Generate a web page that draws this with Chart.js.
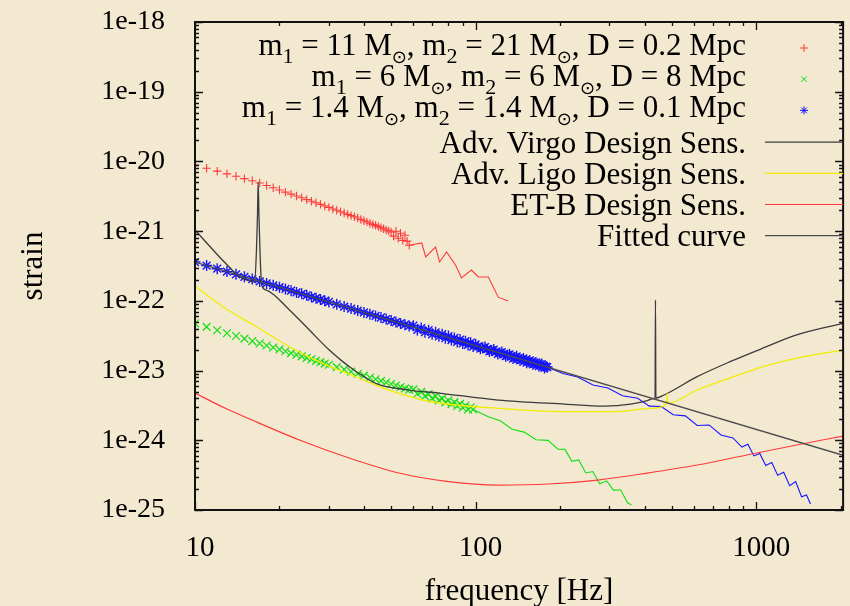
<!DOCTYPE html>
<html>
<head>
<meta charset="utf-8">
<script src="https://cdn.jsdelivr.net/npm/chart.js@4.4.0/dist/chart.umd.min.js"></script>
<style>
html,body{margin:0;padding:0;background:#f3e8d0;}
canvas{display:block;}
</style>
</head>
<body>
<canvas id="c" width="850" height="606"></canvas>
<script>
// ---------------- data ----------------
const freqTicks = [10, 100, 1000];
const strainTicks = [1e-25, 1e-24, 1e-23, 1e-22, 1e-21, 1e-20, 1e-19, 1e-18];

const seriesLabels = [
  'm₁ = 11 M⊙, m₂ = 21 M⊙, D = 0.2 Mpc',
  'm₁ = 6 M⊙, m₂ = 6 M⊙, D = 8 Mpc',
  'm₁ = 1.4 M⊙, m₂ = 1.4 M⊙, D = 0.1 Mpc',
  'Adv. Virgo Design Sens.',
  'Adv. Ligo Design Sens.',
  'ET-B Design Sens.',
  'Fitted curve'
];

// m1 = 11, m2 = 21, D = 0.2 Mpc  (points, then line)
const redFreq = [10,11,12,13,14,15,16,17,18,19,20,21,22,23,24,25,26,27,28,29,30,31,32,33,34,35,36,37,38,39,40,41,42,43,44,45,46,47,48,49,50,51,52,53,54,55,56,57,58];
const redStrain = [8.89e-21,8.00e-21,7.26e-21,6.64e-21,6.12e-21,5.67e-21,5.27e-21,4.90e-21,4.52e-21,4.19e-21,3.89e-21,3.63e-21,3.40e-21,3.19e-21,3.01e-21,2.83e-21,2.69e-21,2.55e-21,2.42e-21,2.30e-21,2.19e-21,2.08e-21,1.99e-21,1.90e-21,1.82e-21,1.74e-21,1.67e-21,1.61e-21,1.54e-21,1.47e-21,1.41e-21,1.36e-21,1.30e-21,1.25e-21,1.21e-21,1.16e-21,1.12e-21,1.08e-21,1.04e-21,1.01e-21,9.73e-22,8.49e-22,9.98e-22,7.92e-22,9.31e-22,7.38e-22,8.75e-22,7.18e-22,6.28e-22];
const redTailFreq = [58,64.3,66.4,72.0,74.4,78.8,84.8,89.1,96.6,102.3,111.0,120.4,130.7];
const redTailStrain = [6.28e-22,6.76e-22,4.26e-22,5.92e-22,3.61e-22,5.02e-22,3.27e-22,2.13e-22,2.77e-22,2.20e-22,2.20e-22,1.13e-22,9.95e-23];

// m1 = 6, m2 = 6, D = 8 Mpc
const greenFreq = [10,11,12,13,14,15,16,17,18,19,20,21,22,23,24,25,26,27,28,29,30,32,34,36,38,40,42,44,46,48,50,52,54,56,58,60,62,64,66,68,70,72,74,76,78,80,82,84,86,88,90,92,94,96,98];
const greenStrain = [4.76e-23,4.23e-23,3.79e-23,3.43e-23,3.13e-23,2.87e-23,2.65e-23,2.46e-23,2.29e-23,2.14e-23,2.01e-23,1.89e-23,1.78e-23,1.69e-23,1.60e-23,1.52e-23,1.45e-23,1.38e-23,1.32e-23,1.26e-23,1.21e-23,1.12e-23,1.04e-23,9.65e-24,9.02e-24,8.46e-24,7.96e-24,7.51e-24,7.11e-24,6.74e-24,6.41e-24,6.10e-24,5.82e-24,5.56e-24,5.32e-24,5.37e-24,4.66e-24,4.95e-24,4.30e-24,4.59e-24,4.00e-24,4.27e-24,3.73e-24,3.99e-24,3.50e-24,3.75e-24,3.29e-24,3.53e-24,3.10e-24,3.33e-24,2.93e-24,3.15e-24,2.77e-24,2.98e-24,2.77e-24];
const greenTailFreq = [98,111.0,122.4,135.0,148.9,164.3,181.1,196.6,208.1,220.3,233.2,247.0,261.6,276.9,293.2,310.4,328.6,347.9,359.4];
const greenTailStrain = [2.77e-24,2.18e-24,1.90e-24,1.44e-24,1.31e-24,1.02e-24,9.98e-25,7.45e-25,7.41e-25,4.98e-25,5.22e-25,3.40e-25,3.56e-25,2.38e-25,2.62e-25,1.91e-25,1.95e-25,1.27e-25,1.18e-25];

// m1 = 1.4, m2 = 1.4, D = 0.1 Mpc
const blueFreq = [10,11,12,13,14,15,16,17,18,19,20,21,22,23,24,25,26,27,28,29,30,32,34,36,38,40,42,44,46,48,50,52,54,56,58,60,62,64,66,68,70,72,74,76,78,80,82,84,86,88,90,92,94,96,98,100,102,104,106,108,110,112,114,116,118,120,122,124,126,128,130,132,134,136,138,140,142,144,146,148,150,152,154,156,158,160,162,164,166,168,170,172,174,176,178,180];
const blueStrain = [3.60e-22,3.21e-22,2.89e-22,2.63e-22,2.40e-22,2.21e-22,2.05e-22,1.90e-22,1.78e-22,1.67e-22,1.57e-22,1.48e-22,1.40e-22,1.32e-22,1.26e-22,1.20e-22,1.14e-22,1.09e-22,1.05e-22,1.00e-22,9.63e-23,8.91e-23,8.29e-23,7.74e-23,7.25e-23,6.82e-23,6.43e-23,6.08e-23,5.77e-23,5.48e-23,5.22e-23,4.97e-23,4.75e-23,4.55e-23,4.37e-23,4.40e-23,3.83e-23,4.07e-23,3.55e-23,3.79e-23,3.31e-23,3.54e-23,3.10e-23,3.32e-23,2.91e-23,3.12e-23,2.74e-23,2.94e-23,2.58e-23,2.78e-23,2.45e-23,2.64e-23,2.33e-23,2.51e-23,2.21e-23,2.38e-23,2.22e-23,2.06e-23,2.12e-23,2.17e-23,2.03e-23,1.88e-23,1.94e-23,2.00e-23,1.86e-23,1.73e-23,1.79e-23,1.84e-23,1.72e-23,1.61e-23,1.66e-23,1.71e-23,1.60e-23,1.49e-23,1.54e-23,1.60e-23,1.49e-23,1.40e-23,1.44e-23,1.49e-23,1.40e-23,1.30e-23,1.35e-23,1.40e-23,1.31e-23,1.23e-23,1.27e-23,1.31e-23,1.24e-23,1.16e-23,1.20e-23,1.24e-23,1.17e-23,1.09e-23,1.14e-23,1.12e-23];
const blueTailFreq = [180,205,231,262,296,334,378,416,459,506,559,616,679,749,826,889,934,981,1030,1081,1136,1193,1253,1316,1382,1451,1511,1561];
const blueTailStrain = [1.12e-23,9.08e-24,8.07e-24,6.21e-24,5.62e-24,4.35e-24,4.01e-24,3.09e-24,3.06e-24,2.33e-24,2.24e-24,1.63e-24,1.66e-24,1.19e-24,1.08e-24,8.0e-25,8.75e-25,5.97e-25,6.46e-25,4.34e-25,4.80e-25,3.14e-25,3.47e-25,2.23e-25,2.55e-25,1.55e-25,1.64e-25,1.22e-25];

// detector sensitivities
const virgoFreq = [10,12.77,14.44,15.66,16.32,16.56,16.70,16.79,16.90,17.04,17.28,17.95,21.71,25.56,30.09,35.43,44.05,57.8,73.8,120.4,208.1,288.4,356.6,409.6,430.2,436,437.5,439,469.5,616.0,806.3,1061,1394,2039];
const virgoStrain = [1.04e-21,3.55e-22,2.20e-22,1.93e-22,1.86e-22,5.36e-22,1.70e-21,5.07e-21,1.70e-21,5.36e-22,1.69e-22,1.43e-22,7.40e-23,3.82e-23,1.97e-23,1.14e-23,6.56e-24,5.26e-24,4.76e-24,3.78e-24,3.31e-24,3.10e-24,3.31e-24,3.72e-24,3.97e-24,4.04e-24,1.03e-22,4.04e-24,4.46e-24,8.17e-24,1.34e-23,2.11e-23,3.24e-23,4.76e-23];
const ligoFreq = [10,12.57,16.55,21.71,28.41,37.41,49.09,69.7,120.4,207.6,312.1,420.7,480.2,481.4,483.0,616.0,806.3,1061,1394,2039];
const ligoStrain = [1.63e-22,8.24e-23,4.26e-23,2.20e-23,1.28e-23,8.16e-24,5.26e-24,3.57e-24,2.87e-24,2.57e-24,2.57e-24,2.87e-24,3.37e-24,4.76e-24,3.39e-24,5.26e-24,7.82e-24,1.14e-23,1.51e-23,1.97e-23];
const etFreq = [10,12.77,15.66,23.56,35.43,53.27,80.1,120.4,181.1,272.3,409.6,616.0,926.2,1393,2039];
const etStrain = [4.76e-24,2.90e-24,2.02e-24,1.01e-24,5.57e-25,3.39e-25,2.55e-25,2.28e-25,2.36e-25,2.69e-25,3.39e-25,4.42e-25,6.15e-25,8.55e-25,1.15e-24];
const fitFreq = [10, 2040];
const fitStrain = [3.6e-22, 6.09e-25];

// ---------------- styles ----------------
const BG = '#f3e8d0';
const RED = '#ff3a3a';
const GREEN = '#14e014';
const BLUE = '#1414ff';
const YELLOW = '#f0ee00';
const VIRGO = '#3c3c3c';
const FIT = '#4c4c4c';
const SERIF = '"Liberation Serif", "Times New Roman", serif';

function pts(fs, ss) { return fs.map((f, i) => ({ x: f, y: ss[i] })); }

const datasets = [
  { label: seriesLabels[0], data: pts(redFreq, redStrain), showLine: false, pointStyle: 'cross', pointRadius: 4.2, pointBorderWidth: 1.1, pointBorderColor: RED, borderColor: RED, order: 6 },
  { label: '', data: pts(redTailFreq, redTailStrain), showLine: true, pointRadius: 0, borderColor: RED, borderWidth: 1.1, order: 6 },
  { label: seriesLabels[1], data: pts(greenFreq, greenStrain), showLine: false, pointStyle: 'crossRot', pointRadius: 5.5, pointBorderWidth: 1.2, pointBorderColor: GREEN, borderColor: GREEN, order: 5 },
  { label: '', data: pts(greenTailFreq, greenTailStrain), showLine: true, pointRadius: 0, borderColor: GREEN, borderWidth: 1.1, order: 5 },
  { label: seriesLabels[2], data: pts(blueFreq, blueStrain), showLine: false, pointStyle: 'star', pointRadius: 5.5, pointBorderWidth: 1.4, pointBorderColor: BLUE, borderColor: BLUE, order: 4 },
  { label: '', data: pts(blueTailFreq, blueTailStrain), showLine: true, pointRadius: 0, borderColor: BLUE, borderWidth: 1.1, order: 4 },
  { label: seriesLabels[3], data: pts(virgoFreq, virgoStrain), showLine: true, pointRadius: 0, borderColor: VIRGO, borderWidth: 1.3, cubicInterpolationMode: 'monotone', order: 3 },
  { label: seriesLabels[4], data: pts(ligoFreq, ligoStrain), showLine: true, pointRadius: 0, borderColor: YELLOW, borderWidth: 1.3, cubicInterpolationMode: 'monotone', order: 2 },
  { label: seriesLabels[5], data: pts(etFreq, etStrain), showLine: true, pointRadius: 0, borderColor: RED, borderWidth: 1.2, cubicInterpolationMode: 'monotone', order: 1 },
  { label: seriesLabels[6], data: pts(fitFreq, fitStrain), showLine: true, pointRadius: 0, borderColor: FIT, borderWidth: 1.3, order: 0 }
];
const keyEntries = [0, 2, 4, 6, 7, 8, 9];

// ---------------- drawing helpers ----------------
function drawKeyText(ctx, label, rightX, baseY) {
  const segs = [];
  for (const ch of label) {
    let kind = 'n', t = ch;
    if (ch === '₁') { kind = 's'; t = '1'; }
    else if (ch === '₂') { kind = 's'; t = '2'; }
    else if (ch === '⊙') { kind = 'o'; }
    const last = segs[segs.length - 1];
    if (last && last.kind === kind) last.t += t; else segs.push({ kind, t });
  }
  const fonts = { n: '31px ' + SERIF, s: '22px ' + SERIF, o: '18px "DejaVu Sans"' };
  const drop = { n: 0, s: 8, o: 8 };
  let total = 0;
  segs.forEach(s => { ctx.font = fonts[s.kind]; s.w = ctx.measureText(s.t).width; total += s.w; });
  let x = rightX - total;
  ctx.fillStyle = '#000';
  ctx.textAlign = 'left';
  ctx.textBaseline = 'alphabetic';
  segs.forEach(s => { ctx.font = fonts[s.kind]; ctx.fillText(s.t, x, baseY + drop[s.kind]); x += s.w; });
}

function drawMarker(ctx, style, r, x, y) {
  if (Chart.helpers && Chart.helpers.drawPoint) {
    Chart.helpers.drawPoint(ctx, { pointStyle: style, radius: r, rotation: 0, borderWidth: 1 }, x, y);
  }
}

const decor = {
  id: 'decor',
  beforeDraw(chart) {
    const ctx = chart.ctx;
    ctx.save();
    ctx.fillStyle = BG;
    ctx.fillRect(0, 0, chart.width, chart.height);
    ctx.restore();
  },
  afterDraw(chart) {
    const ctx = chart.ctx;
    const { left, right, top, bottom } = chart.chartArea;
    const xs = chart.scales.x, ys = chart.scales.y;
    ctx.save();
    // inward ticks on all four sides
    ctx.strokeStyle = '#111';
    ctx.lineWidth = 1.3;
    ctx.beginPath();
    for (let d = 10; d <= 1000; d *= 10) {
      for (let k = 1; k <= 9; k++) {
        const v = k * d;
        if (v < xs.min || v > xs.max) continue;
        const px = Math.round(xs.getPixelForValue(v)) + 0.5;
        const len = k === 1 ? 8 : 4;
        ctx.moveTo(px, bottom); ctx.lineTo(px, bottom - len);
        ctx.moveTo(px, top); ctx.lineTo(px, top + len);
      }
    }
    for (let e = -25; e <= -18; e++) {
      for (let k = 1; k <= 9; k++) {
        if (e === -18 && k > 1) continue;
        const v = k * Math.pow(10, e);
        const py = Math.round(ys.getPixelForValue(v)) + 0.5;
        const len = k === 1 ? 8 : 4;
        ctx.moveTo(left, py); ctx.lineTo(left + len, py);
        ctx.moveTo(right, py); ctx.lineTo(right - len, py);
      }
    }
    ctx.stroke();
    // frame
    ctx.lineWidth = 2;
    ctx.strokeStyle = '#111';
    ctx.strokeRect(left, top, right - left, bottom - top);

    // key
    const textRight = left + 551;
    const sampleL = left + 570, sampleR = right;
    keyEntries.forEach((di, i) => {
      const ds = chart.data.datasets[di];
      const cy = top + 26 + i * 31.2;
      const hasSub = /[₁₂⊙]/.test(ds.label);
      drawKeyText(ctx, ds.label, textRight, cy + (hasSub ? 7 : 11));
      ctx.strokeStyle = ds.borderColor;
      ctx.lineWidth = 1.2;
      if (ds.showLine) {
        ctx.beginPath();
        ctx.moveTo(sampleL, cy + 0.5); ctx.lineTo(sampleR, cy + 0.5);
        ctx.stroke();
      } else {
        ctx.lineWidth = 1;
        drawMarker(ctx, ds.pointStyle, 4, (sampleL + sampleR) / 2, cy);
      }
    });
    ctx.restore();
  }
};

new Chart(document.getElementById('c'), {
  type: 'scatter',
  data: { datasets },
  plugins: [decor],
  options: {
    responsive: false,
    animation: false,
    devicePixelRatio: 1,
    events: [],
    layout: { padding: { top: 22, right: 3, left: 0, bottom: 0 } },
    plugins: { legend: { display: false }, tooltip: { enabled: false } },
    scales: {
      x: {
        type: 'logarithmic', position: 'bottom', min: 10, max: 2040,
        grid: { display: false }, border: { display: false },
        afterBuildTicks: s => { s.ticks = freqTicks.map(v => ({ value: v })); },
        afterFit: s => { s.height = 96; s.paddingLeft = 0; s.paddingRight = 0; },
        ticks: {
          autoSkip: false, maxRotation: 0, padding: 13, labelOffset: 5, color: '#000',
          font: { family: SERIF, size: 29 },
          callback: v => String(v)
        },
        title: { display: true, text: 'frequency [Hz]', color: '#000', font: { family: SERIF, size: 31, lineHeight: 0.9 }, padding: { top: 0, bottom: 0 } }
      },
      y: {
        type: 'logarithmic', position: 'left', min: 1e-25, max: 1e-18,
        grid: { display: false }, border: { display: false },
        afterBuildTicks: s => { s.ticks = strainTicks.map(v => ({ value: v })); },
        afterFit: s => { s.width = 195; s.paddingTop = 0; s.paddingBottom = 0; },
        ticks: {
          autoSkip: false, padding: 22, color: '#000',
          font: { family: SERIF, size: 28 },
          callback: v => '1e' + Math.round(Math.log10(v))
        },
        title: { display: true, text: 'strain', color: '#000', font: { family: SERIF, size: 31 }, padding: { top: 15, bottom: 0 } }
      }
    }
  }
});
</script>
</body>
</html>
